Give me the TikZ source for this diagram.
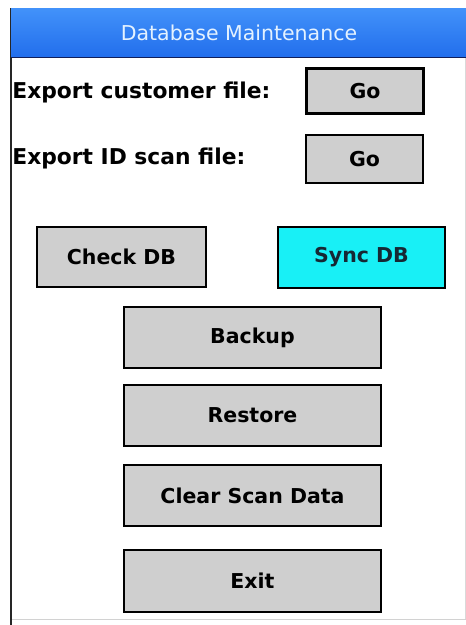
\documentclass[tikz,border=0pt]{standalone}
\usepackage{fontspec}
\setmainfont{DejaVu Sans}

\definecolor{btngray}{RGB}{207,207,207}
\definecolor{synccyan}{RGB}{24,240,246}
\definecolor{synctext}{RGB}{22,40,52}
\definecolor{titletop}{RGB}{66,146,250}
\definecolor{titlebot}{RGB}{34,110,236}
\definecolor{titleline}{RGB}{16,30,90}
\definecolor{titletext}{RGB}{228,242,255}

\tikzset{every picture/.style={line width=0.75pt}}
\tikzset{
  btn/.style={draw=black, fill=btngray, line width=1.5pt, inner sep=0pt,
    font=\fontsize{20.5}{24}\selectfont\bfseries},
  lbl/.style={anchor=west, inner sep=0pt,
    font=\fontsize{21.8}{26}\selectfont\bfseries}
}

\begin{document}
\begin{tikzpicture}[x=1pt,y=1pt,yscale=-1]
\useasboundingbox (0,0) rectangle (466,625);
\fill[white] (0,0) rectangle (466,625);

%Window frame
\draw [line width=2pt, black!85]   (11,8) -- (11,625) ;
\draw [gray!35]   (12,619) -- (466,619) ;
\draw [gray!30]   (465,58) -- (465,619) ;

%Title bar
\shade [top color=titletop, bottom color=titlebot]   (11,8) rectangle (466,57) ;
\draw [titleline, line width=1.5pt]   (11,57.5) -- (466,57.5) ;
% Text Node
\node [text=titletext, inner sep=0pt, font=\fontsize{20.5}{24}\selectfont] (title) at (239,33) {Database Maintenance};

% Text Node
\node [lbl] (custlbl) at (12,92) {Export customer file:};
% Text Node
\node [lbl] (scanlbl) at (12,158) {Export ID scan file:};

%Buttons
\node [btn, line width=3pt, minimum width=117pt, minimum height=45pt] (gocust) at (365,91) {Go};
\node [btn, minimum width=117pt, minimum height=48pt] (goscan) at (364.5,159) {Go};
\node [btn, minimum width=169pt, minimum height=60pt] (checkdb) at (121.5,257) {Check DB};
\node [btn, fill=synccyan, text=synctext, minimum width=167pt, minimum height=61pt] (syncdb) at (361.5,257.5) {Sync DB};
\node [btn, minimum width=257pt, minimum height=61pt] (backup) at (252.5,337.5) {Backup};
\node [btn, minimum width=257pt, minimum height=61pt] (restore) at (252.5,415.5) {Restore};
\node [btn, minimum width=257pt, minimum height=61pt] (clearscan) at (252.5,495.5) {Clear Scan Data};
\node [btn, minimum width=257pt, minimum height=62pt] (exit) at (252.5,581) {Exit};

\end{tikzpicture}
\end{document}
